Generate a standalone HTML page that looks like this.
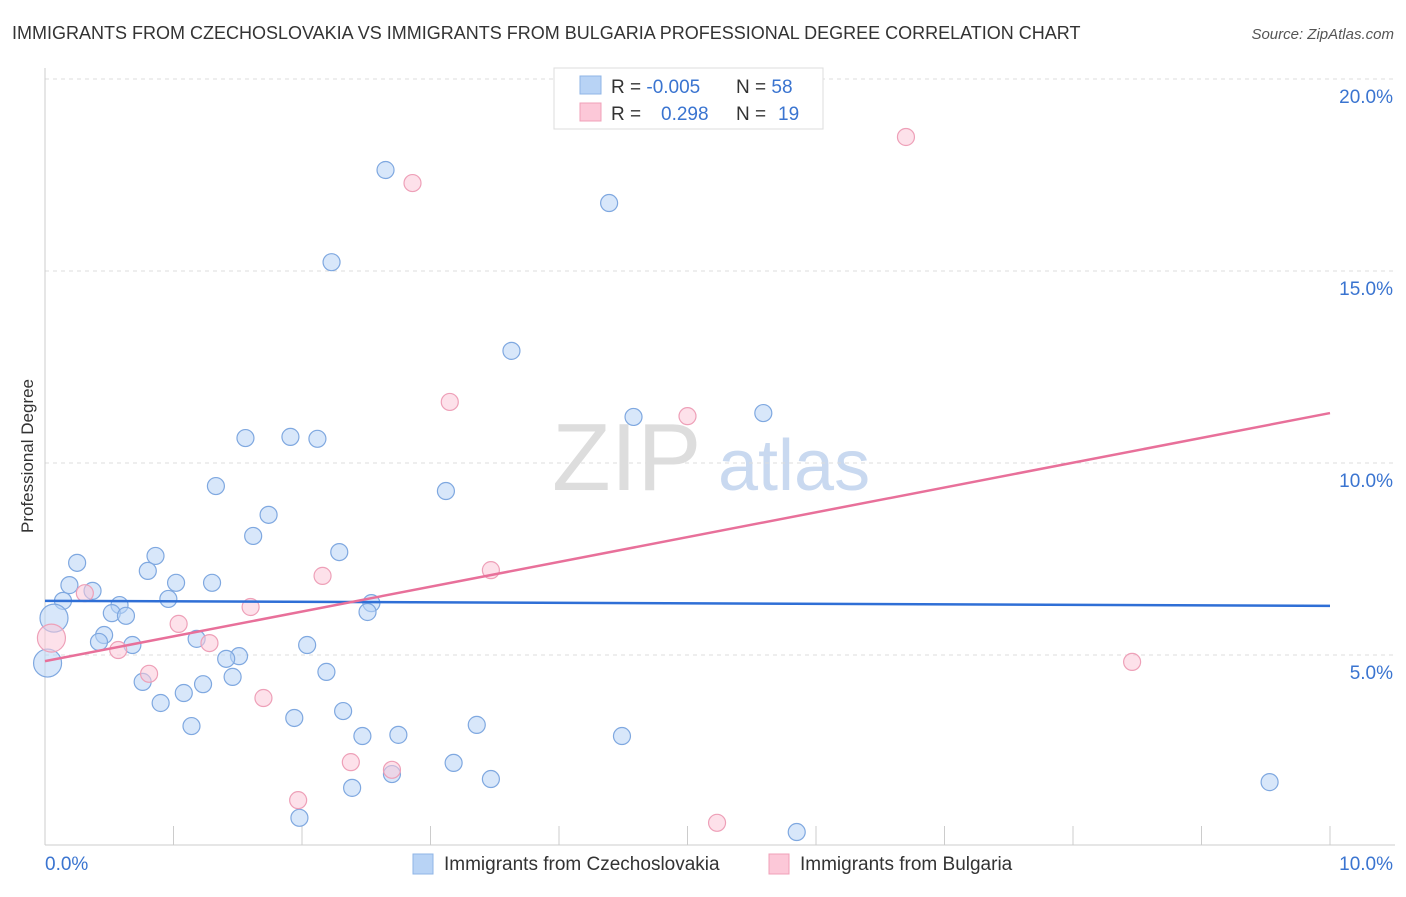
<!DOCTYPE html>
<html><head><meta charset="utf-8"><style>
body{margin:0;background:#fff;font-family:"Liberation Sans",sans-serif;}
svg text{font-family:"Liberation Sans",sans-serif;}
</style></head><body>
<svg id="chart" width="1406" height="892" xmlns="http://www.w3.org/2000/svg">
<text x="12" y="39" font-size="18" fill="#333">IMMIGRANTS FROM CZECHOSLOVAKIA VS IMMIGRANTS FROM BULGARIA PROFESSIONAL DEGREE CORRELATION CHART</text>
<text x="1394" y="39" font-size="15" fill="#555" text-anchor="end" font-style="italic">Source: ZipAtlas.com</text>
<text x="552" y="490" font-size="96" fill="#ddd" font-family="Liberation Serif">ZIP</text>
<text x="718" y="490" font-size="72" fill="#c9d9f0">atlas</text>
<text transform="translate(33,456) rotate(-90)" font-size="17" fill="#333" text-anchor="middle">Professional Degree</text>
<g id="grid"></g><g id="axes"></g><g id="marks"></g>
<g>
<rect x="554" y="68" width="269" height="61" fill="#fff" stroke="#ddd"/>
<rect x="580" y="76" width="21" height="18" fill="#b8d3f5" stroke="#8fb4e6"/>
<rect x="580" y="103" width="21" height="18" fill="#fcc8d8" stroke="#f0a0b8"/>
<text x="611" y="93" font-size="19" fill="#333">R = <tspan fill="#3a74d0">-0.005</tspan></text>
<text x="736" y="93" font-size="19" fill="#333">N = <tspan fill="#3a74d0">58</tspan></text>
<text x="611" y="120" font-size="19" fill="#333">R = <tspan fill="#3a74d0" x="661">0.298</tspan></text>
<text x="736" y="120" font-size="19" fill="#333">N = <tspan fill="#3a74d0" x="778">19</tspan></text>
</g>
<g>
<rect x="413" y="854" width="20" height="20" fill="#b8d3f5" stroke="#8fb4e6"/>
<text x="444" y="870" font-size="19" fill="#333">Immigrants from Czechoslovakia</text>
<rect x="769" y="854" width="20" height="20" fill="#fcc8d8" stroke="#f0a0b8"/>
<text x="800" y="870" font-size="19" fill="#333">Immigrants from Bulgaria</text>
</g>
</svg>
<script>
const blueX=[2.65,4.39,2.23,3.63,4.58,5.59,1.56,1.91,2.12,1.33,3.12,1.74,1.62,2.29,0.86,0.25,0.80,1.02,1.30,0.19,0.37,0.14,0.96,0.58,2.54,2.51,0.52,0.63,0.07,0.46,1.18,0.42,0.68,2.04,1.51,1.41,2.19,0.76,1.23,1.08,1.46,0.90,2.32,1.94,1.14,3.36,2.47,2.75,4.49,3.18,2.70,3.47,2.39,9.53,1.98,5.85,0.02];
const blueY=[17.63,16.77,15.23,12.92,11.20,11.30,10.65,10.68,10.63,9.40,9.27,8.65,8.10,7.68,7.58,7.40,7.19,6.88,6.88,6.82,6.67,6.41,6.46,6.30,6.35,6.12,6.09,6.02,5.96,5.52,5.42,5.34,5.26,5.26,4.97,4.90,4.56,4.30,4.24,4.01,4.43,3.75,3.54,3.36,3.15,3.18,2.89,2.92,2.89,2.19,1.90,1.77,1.54,1.69,0.76,0.39,4.79];
const pinkX=[6.70,2.86,3.15,5.00,3.47,2.16,1.60,1.04,1.28,0.57,0.81,1.70,2.38,2.70,1.97,5.23,8.46,0.05,0.31];
const pinkY=[18.49,17.29,11.59,11.22,7.21,7.06,6.25,5.81,5.31,5.13,4.51,3.88,2.21,2.01,1.22,0.63,4.82,5.44,6.61];
const blueTrend=[6.41,6.28];
const pinkTrend=[4.84,11.3];
const yTicks=[5,10,15,20];
const yTickLabels=["5.0%","10.0%","15.0%","20.0%"];
const xTickLabels=["0.0%","10.0%"];
const NS="http://www.w3.org/2000/svg";
const X=v=>45+v*128.5, Y=v=>847-v*38.4;
function mk(p,t,a){const e=document.createElementNS(NS,t);for(const k in a)e.setAttribute(k,a[k]);document.getElementById(p).appendChild(e);return e;}
yTicks.forEach((t,i)=>{
 const l=mk('grid','line',{x1:45,x2:1395,y1:Y(t),y2:Y(t),stroke:'#ddd','stroke-dasharray':'4,4'});
 
 
 const tx=mk('grid','text',{x:1393,y:Y(t)+24,'font-size':19,fill:'#3a74d0','text-anchor':'end'});
 tx.textContent=yTickLabels[i];
 
 
});
const ax=mk('axes','line',{x1:45,x2:45,y1:68,y2:845,stroke:'#ccc'});


const bx=mk('axes','line',{x1:45,x2:1395,y1:845,y2:845,stroke:'#ccc'});


for(let i=1;i<=10;i++){const t=mk('axes','line',{x1:X(i),x2:X(i),y1:826,y2:845,stroke:'#ccc'});
 
 }
[[0,'start',45],[10,'end',1393]].forEach((d,i)=>{const t=mk('axes','text',{x:d[2],y:870,'font-size':19,fill:'#3a74d0','text-anchor':d[1]});t.textContent=xTickLabels[i];
 
 });
function pts(xs,ys,fill,stroke,name){xs.forEach((x,i)=>{const big=(x<0.1);const c=mk('marks','circle',{cx:X(x),cy:Y(ys[i]),r:big?14:8.5,fill:fill,stroke:stroke,'stroke-width':1.2,'fill-opacity':0.55});
 
 });}
pts(blueX,blueY,'#b8d3f5','#7fa8e0','czechoslovakia-point');
pts(pinkX,pinkY,'#fcc8d8','#eea0b8','bulgaria-point');
const bl=mk('marks','line',{x1:X(0),x2:X(10),y1:Y(blueTrend[0]),y2:Y(blueTrend[1]),stroke:'#2f6fd6','stroke-width':2.5});


const pl=mk('marks','line',{x1:X(0),x2:X(10),y1:Y(pinkTrend[0]),y2:Y(pinkTrend[1]),stroke:'#e8709a','stroke-width':2.5});


</script>
</body></html>
